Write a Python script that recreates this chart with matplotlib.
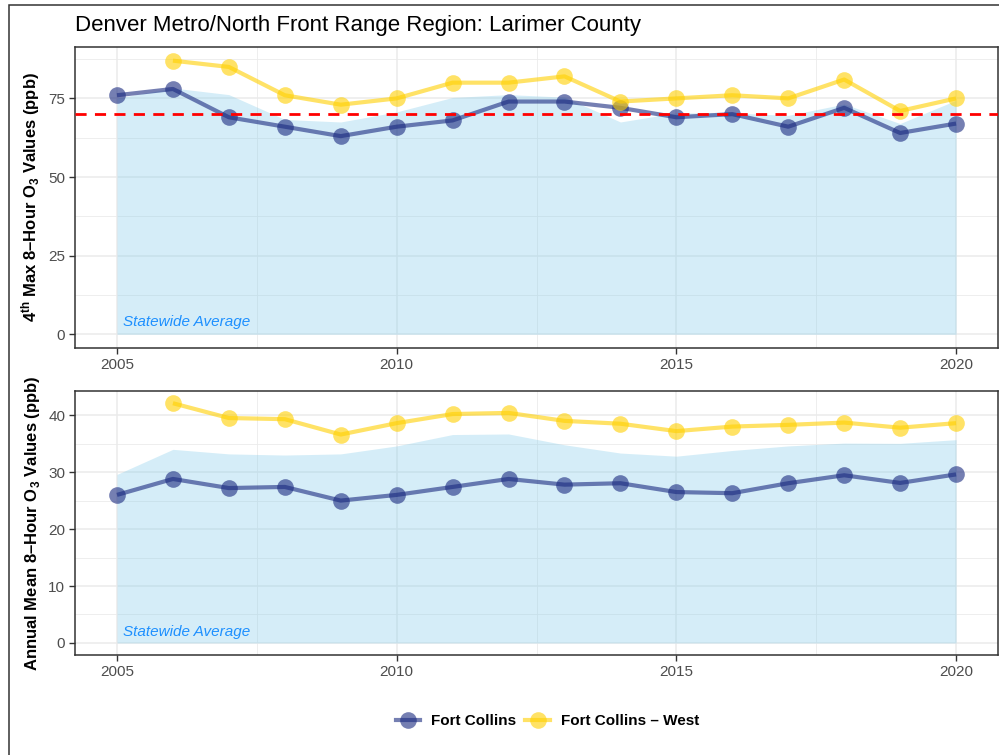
import matplotlib
matplotlib.use("Agg")
import matplotlib.pyplot as plt
from matplotlib.lines import Line2D
from matplotlib.patches import Rectangle
from matplotlib.ticker import MultipleLocator

plt.rcParams['font.family'] = ['Liberation Sans', 'DejaVu Sans']
plt.rcParams['mathtext.fontset'] = 'custom'
plt.rcParams['mathtext.rm'] = 'Liberation Sans'
plt.rcParams['mathtext.bf'] = 'Liberation Sans:bold'

# ozone data, Larimer County monitors
years = list(range(2005, 2021))
years_west = list(range(2006, 2021))

# 4th max 8-hour values (ppb)
max4_fc = [76, 78, 69, 66, 63, 66, 68, 74, 74, 72, 69, 70, 66, 72, 64, 67]
max4_west = [87, 85, 76, 73, 75, 80, 80, 82, 74, 75, 76, 75, 81, 71, 75]
max4_state = [75.1, 78.3, 76.2, 68.3, 67.5, 70.7, 75.3, 76.2, 75.4, 67.5,
              70.4, 70.4, 69.6, 73.2, 67.0, 74.4]

# annual mean 8-hour values (ppb)
mean_fc = [26.0, 28.8, 27.2, 27.4, 25.0, 26.0, 27.4, 28.8, 27.8, 28.05,
           26.5, 26.3, 28.05, 29.45, 28.1, 29.6]
mean_west = [42.1, 39.5, 39.3, 36.6, 38.6, 40.2, 40.4, 39.0, 38.5, 37.2,
             38.0, 38.3, 38.7, 37.8, 38.6]
mean_state = [29.6, 34.0, 33.2, 33.0, 33.2, 34.6, 36.6, 36.7, 34.8, 33.35,
              32.8, 33.8, 34.6, 35.1, 35.05, 35.7]

naaqs = 70

blue = '#1a2a80'
gold = '#FFD000'
area_col = '#87CEEB'
tick_col = '#4D4D4D'

fig = plt.figure(figsize=(9.99, 7.55), dpi=100)
ax1 = fig.add_axes([0.0751, 0.5391, 0.9239, 0.3987])
ax2 = fig.add_axes([0.0751, 0.1325, 0.9239, 0.3501])


def draw_panel(ax, state, fc, west, ylim, major, minor, ylabel, label_y):
    ax.set_axisbelow(True)
    ax.fill_between(years, 0, state, color=area_col, alpha=0.35, lw=0, zorder=1)
    ax.plot(years, fc, color=blue, alpha=0.6, lw=3, zorder=3, solid_capstyle='butt')
    ax.plot(years, fc, 'o', color=blue, alpha=0.6, ms=12, mew=0, zorder=3)
    ax.plot(years_west, west, color=gold, alpha=0.6, lw=3, zorder=3, solid_capstyle='butt')
    ax.plot(years_west, west, 'o', color=gold, alpha=0.6, ms=12, mew=0, zorder=3)

    ax.set_xlim(2004.25, 2020.75)
    ax.set_ylim(*ylim)
    ax.set_xticks([2005, 2010, 2015, 2020])
    ax.xaxis.set_minor_locator(MultipleLocator(2.5))
    ax.yaxis.set_major_locator(MultipleLocator(major))
    ax.yaxis.set_minor_locator(MultipleLocator(minor))
    ax.grid(True, which='major', color='#EBEBEB', lw=1.1)
    ax.grid(True, which='minor', color='#EBEBEB', lw=0.6)
    ax.tick_params(which='major', length=4, width=1, color='#333333',
                   labelsize=11, labelcolor=tick_col, pad=3)
    ax.tick_params(which='minor', length=0)
    for s in ax.spines.values():
        s.set_color('#333333')
        s.set_linewidth(1.1)

    ax.set_ylabel(ylabel, fontsize=12, fontweight='bold')
    ax.yaxis.set_label_coords(-0.036, 0.5)

    ax.text(2005.1, label_y, 'Statewide Average', color='#1E90FF',
            style='italic', fontsize=11, va='center', ha='left', zorder=4)


draw_panel(ax1, max4_state, max4_fc, max4_west, (-4.35, 91.35), 25, 12.5,
           r'$\mathbf{4^{th}}$ Max 8–Hour O$_\mathbf{3}$ Values (ppb)', 4.0)
ax1.axhline(naaqs, color='red', lw=2, ls=(0, (4, 3)), zorder=4)

draw_panel(ax2, mean_state, mean_fc, mean_west, (-2.11, 44.31), 10, 5,
           r'Annual Mean 8–Hour O$_\mathbf{3}$ Values (ppb)', 2.0)

fig.text(75 / 999, 1 - 25 / 755, 'Denver Metro/North Front Range Region: Larimer County',
         fontsize=16, ha='left', va='center')

handles = [
    Line2D([], [], color=blue, alpha=0.6, lw=3, marker='o', ms=12, mew=0),
    Line2D([], [], color=gold, alpha=0.6, lw=3, marker='o', ms=12, mew=0),
]
fig.legend(handles, ['Fort Collins', 'Fort Collins – West'], loc='center',
           bbox_to_anchor=(0.548, 1 - 721 / 755), ncol=2, frameon=False,
           prop={'size': 11, 'weight': 'bold'}, handlelength=1.6,
           handletextpad=0.7, columnspacing=0.6)

# outer frame
fig.add_artist(Rectangle((8.5 / 999, -0.05), 1.1, 1 - 5 / 755 + 0.05,
                         transform=fig.transFigure, fill=False,
                         edgecolor='#333333', lw=1.1))

fig.savefig('out.png', dpi=100)
